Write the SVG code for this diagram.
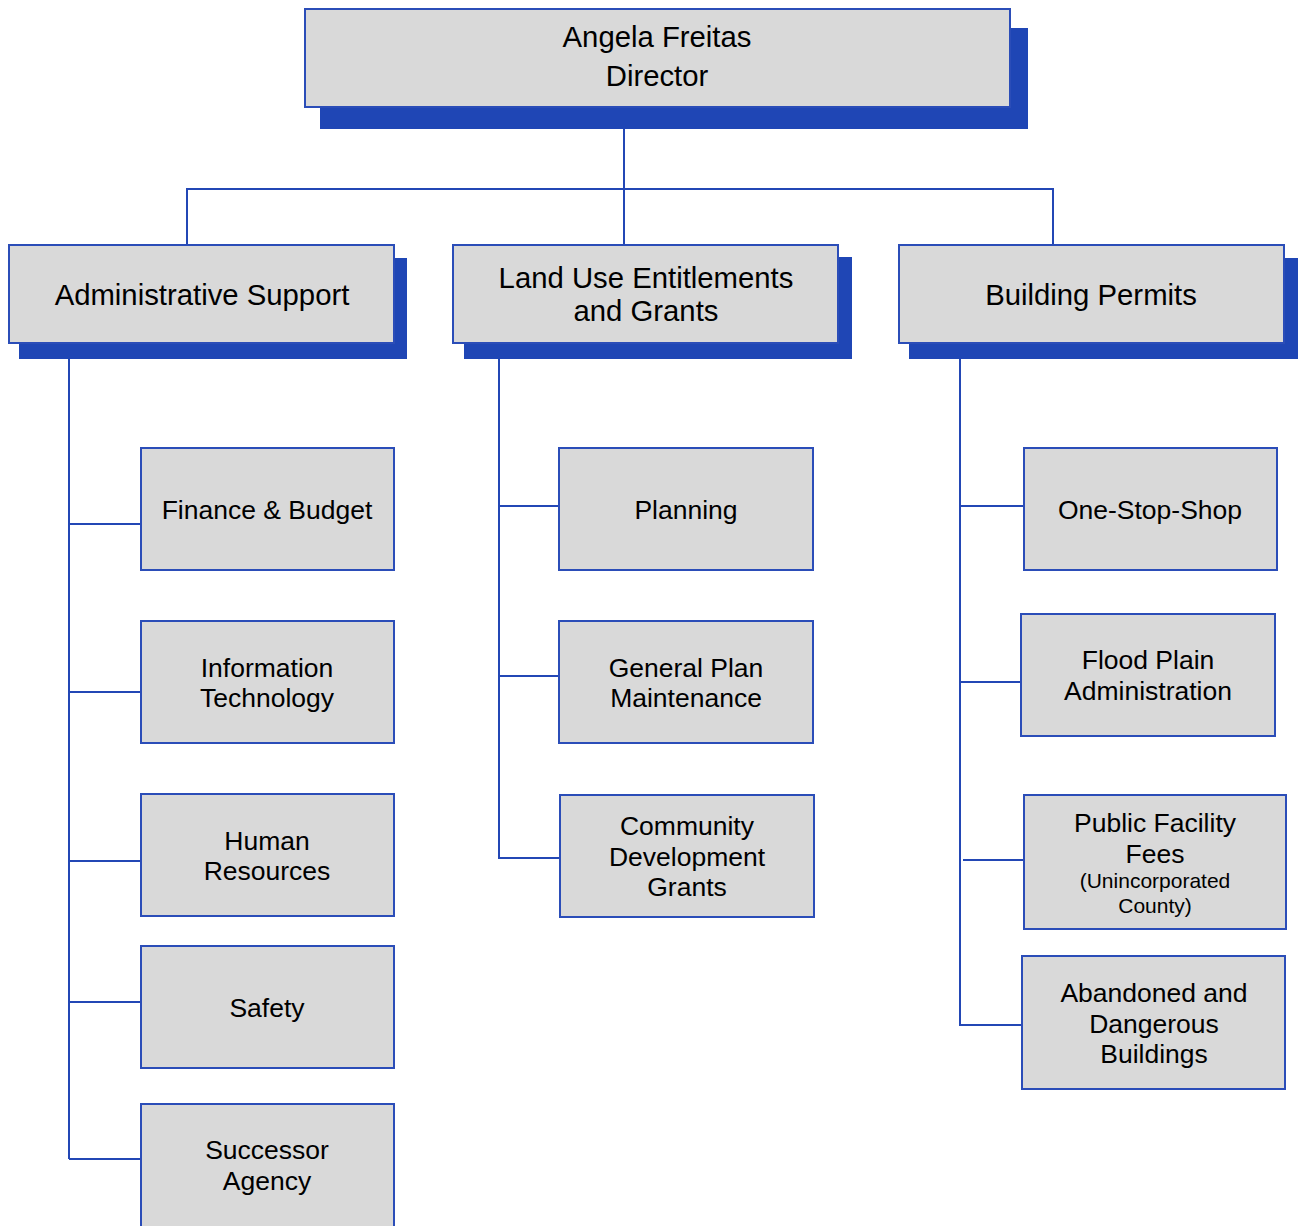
<svg xmlns="http://www.w3.org/2000/svg" width="1298" height="1226" viewBox="0 0 1298 1226">
<style>
.box{fill:#d9d9d9;stroke:#2b4db8;stroke-width:2}
.sh{fill:#1f46b5}
.t{font-family:"Liberation Sans",Arial,sans-serif;fill:#000;text-anchor:middle}
.l1{font-size:29.3px}
.l2{font-size:26.5px}
.l3{font-size:21px}
.c{fill:none;stroke:#2347b5;stroke-width:2}
</style>
<rect width="1298" height="1226" fill="#fff"/>
<g id="connectors">
<path class="c" d="M624 129V245M187 245V189H1053V245"/>
<path class="c" d="M69 359V1159M69 524H141M69 692H141M69 861H141M69 1002H141M69 1159H141"/>
<path class="c" d="M499 359V858H560M499 506H559M499 676H559"/>
<path class="c" d="M960 359V1025H1022M960 506H1024M960 682H1021M963 860H1024"/>
</g>
<g id="director">
<rect class="sh" x="320" y="28" width="708" height="101"/>
<rect class="box" x="305" y="9" width="705" height="98"/>
<text class="t l1" x="657" y="47">Angela Freitas</text>
<text class="t l1" x="657" y="86">Director</text>
</g>
<g id="admin">
<rect class="sh" x="19" y="258" width="388" height="101"/>
<rect class="box" x="9" y="245" width="385" height="98"/>
<text class="t l1" x="202" y="305">Administrative Support</text>
</g>
<g id="landuse">
<rect class="sh" x="464" y="257" width="388" height="102"/>
<rect class="box" x="453" y="245" width="385" height="98"/>
<text class="t l1" x="646" y="288">Land Use Entitlements</text>
<text class="t l1" x="646" y="321">and Grants</text>
</g>
<g id="building">
<rect class="sh" x="909" y="258" width="389" height="101"/>
<rect class="box" x="899" y="245" width="385" height="98"/>
<text class="t l1" x="1091" y="305">Building Permits</text>
</g>
<g id="finance">
<rect class="box" x="141" y="448" width="253" height="122"/>
<text class="t l2" x="267" y="519">Finance &amp; Budget</text>
</g>
<g id="it">
<rect class="box" x="141" y="621" width="253" height="122"/>
<text class="t l2" x="267" y="677">Information</text>
<text class="t l2" x="267" y="707">Technology</text>
</g>
<g id="hr">
<rect class="box" x="141" y="794" width="253" height="122"/>
<text class="t l2" x="267" y="850">Human</text>
<text class="t l2" x="267" y="880">Resources</text>
</g>
<g id="safety">
<rect class="box" x="141" y="946" width="253" height="122"/>
<text class="t l2" x="267" y="1017">Safety</text>
</g>
<g id="successor">
<rect class="box" x="141" y="1104" width="253" height="130"/>
<text class="t l2" x="267" y="1159">Successor</text>
<text class="t l2" x="267" y="1190">Agency</text>
</g>
<g id="planning">
<rect class="box" x="559" y="448" width="254" height="122"/>
<text class="t l2" x="686" y="519">Planning</text>
</g>
<g id="generalplan">
<rect class="box" x="559" y="621" width="254" height="122"/>
<text class="t l2" x="686" y="677">General Plan</text>
<text class="t l2" x="686" y="707">Maintenance</text>
</g>
<g id="community">
<rect class="box" x="560" y="795" width="254" height="122"/>
<text class="t l2" x="687" y="835">Community</text>
<text class="t l2" x="687" y="866">Development</text>
<text class="t l2" x="687" y="896">Grants</text>
</g>
<g id="onestop">
<rect class="box" x="1024" y="448" width="253" height="122"/>
<text class="t l2" x="1150" y="519">One-Stop-Shop</text>
</g>
<g id="flood">
<rect class="box" x="1021" y="614" width="254" height="122"/>
<text class="t l2" x="1148" y="669">Flood Plain</text>
<text class="t l2" x="1148" y="700">Administration</text>
</g>
<g id="publicfacility">
<rect class="box" x="1024" y="795" width="262" height="134"/>
<text class="t l2" x="1155" y="832">Public Facility</text>
<text class="t l2" x="1155" y="863">Fees</text>
<text class="t l3" x="1155" y="888">(Unincorporated</text>
<text class="t l3" x="1155" y="913">County)</text>
</g>
<g id="abandoned">
<rect class="box" x="1022" y="956" width="263" height="133"/>
<text class="t l2" x="1154" y="1002">Abandoned and</text>
<text class="t l2" x="1154" y="1033">Dangerous</text>
<text class="t l2" x="1154" y="1063">Buildings</text>
</g>
</svg>
